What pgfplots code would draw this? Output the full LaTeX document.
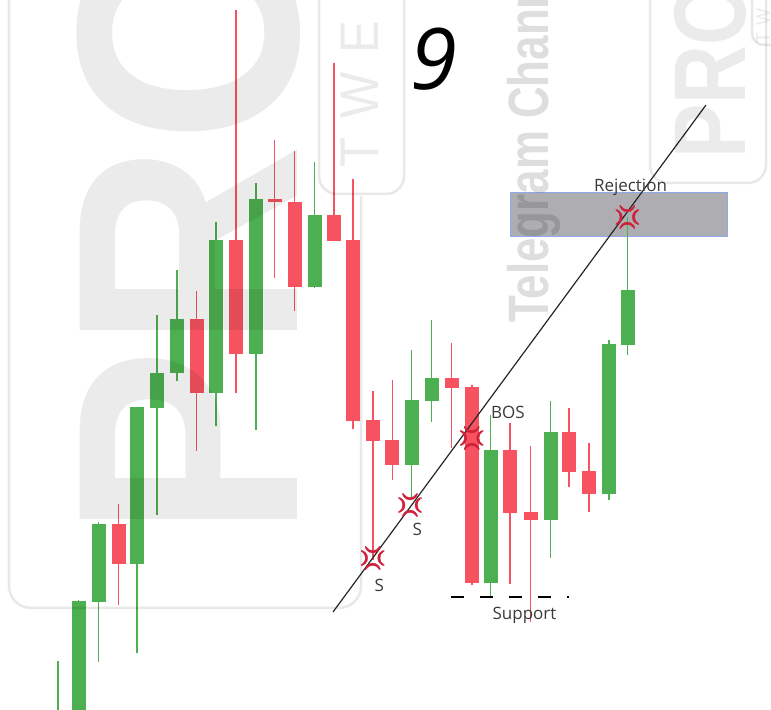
\documentclass[border=0pt]{standalone}
\usepackage{pgfplots}
\pgfplotsset{compat=1.18}
\usepackage{pgfplotstable}
\usepackage{fontspec}
\setmainfont{Open Sans}
\newfontfamily\wmfont{Liberation Sans}
\newfontfamily\emojifont{Noto Emoji}[FakeBold=1.5]

\definecolor{cgreen}{HTML}{4CAF50}
\definecolor{cred}{HTML}{F7525F}
\definecolor{angry}{HTML}{D0203A}
\definecolor{zonefill}{HTML}{AEAEB2}
\definecolor{zoneline}{HTML}{8FA9EC}
\definecolor{labeltext}{HTML}{3A3A3A}

% candles in picture pixels: body top/bottom, wick top/bottom (y grows downwards)
\pgfplotstableread{
x     bt     bb     wt    wb
58    730    790    661   800
78.7  601.5  760    600.5 800
98.5  524    602    522   662
137   407.5  564    407   653
157   373    408    315   515
177   319    373    270   381
216   240    393    222   426
256   199    354.5  183   430
314.5 215.5  287.5  162   288
411.7 400    465    350   500
431.7 378    401    320.5 422.5
490.5 450    583    415   597
550.5 432    520    401.5 558
609   344    494.5  340   500
627.5 290    345    217   355
}\greencandles

\pgfplotstableread{
x     bt     bb     wt    wb
118.5 524    564    504   605
196.5 319    393    291   451
236   240    354.5  10    393
274.5 199    202    140   278
294.5 202    287.5  151   311
334   215.5  241    63    241
353   240    421    179   429
373   420.5  441    391   560
392.3 440.5  465    380   480
451.7 377.7  388    342.7 447.7
472   387    583    385   585
510   450    513.3  423   584
530.7 512    520    445.7 621.7
569   432    472    408   486.7
589   471    494    443   511.7
}\redcandles

\pgfplotsset{
  candlepart/.style 2 args={draw=none, no marks,
    error bars/.cd, y dir=both, y explicit, error mark=none,
    error bar style={draw=#1, line width=#2}},
}

\begin{document}
\begin{tikzpicture}
\begin{axis}[
  width=771bp, height=710bp, scale only axis,
  xmin=0, xmax=771, ymin=0, ymax=710, y dir=reverse,
  enlargelimits=false, hide axis, clip=true,
]
\coordinate (tl) at (axis cs:0,0);
\coordinate (br) at (axis cs:771,710);

% rejection zone
\addplot[fill=zonefill, draw=zoneline, line width=1bp] coordinates {
  (510,193) (727,193) (727,237) (510,237) (510,193)};

% candles
\addplot[candlepart={cgreen}{1.3bp}] table[x=x,
  y expr={(\thisrow{wt}+\thisrow{wb})/2},
  y error expr={(\thisrow{wb}-\thisrow{wt})/2}] {\greencandles};
\addplot[candlepart={cgreen}{14bp}] table[x=x,
  y expr={(\thisrow{bt}+\thisrow{bb})/2},
  y error expr={(\thisrow{bb}-\thisrow{bt})/2}] {\greencandles};
\addplot[candlepart={cred}{1.3bp}] table[x=x,
  y expr={(\thisrow{wt}+\thisrow{wb})/2},
  y error expr={(\thisrow{wb}-\thisrow{wt})/2}] {\redcandles};
\addplot[candlepart={cred}{14bp}] table[x=x,
  y expr={(\thisrow{bt}+\thisrow{bb})/2},
  y error expr={(\thisrow{bb}-\thisrow{bt})/2}] {\redcandles};

% trend line and support
\addplot[black!85, line width=1.2bp] coordinates {(333,612) (706,105)};
\addplot[black, line width=2bp, dash pattern=on 13bp off 16bp]
  coordinates {(451,597) (569,597)};

% touch markers
\addplot[angry, only marks, mark=text, text mark={\emojifont\fontsize{23bp}{23bp}\selectfont 💢},
  text mark as node=true, text mark style={text=angry}] coordinates {
  (372.7,558) (410,505) (471.7,438) (627.3,217)};
\end{axis}

\begin{scope}[shift={(tl)}, x=1bp, y=-1bp]
  % watermarks
  \begin{scope}[draw=black, draw opacity=0.09, line width=2.5bp]
    \draw[rounded corners=22bp] (9,-40) -- (9,608) -- (361,608) -- (361,196);
    \draw[rounded corners=18bp] (319,-40) -- (319,194) -- (404,194) -- (404,-40);
    \draw[rounded corners=18bp] (650,-40) -- (650,183) -- (766,183) -- (766,-40);
    \draw[rounded corners=12bp] (752,-40) -- (752,45) -- (800,45);
  \end{scope}
  \node[rotate=90, anchor=base west, inner sep=0pt, text=black, text opacity=0.08]
    at (297,539) {\wmfont\bfseries\fontsize{316bp}{316bp}\selectfont\scalebox{0.9}[1]{PRO}};
  \node[rotate=90, anchor=base west, inner sep=0pt, text=black, text opacity=0.08]
    at (745,159) {\wmfont\bfseries\fontsize{102bp}{102bp}\selectfont\scalebox{0.8}[1]{PRO}};
  \node[rotate=90, anchor=base west, inner sep=0pt, text=black, text opacity=0.08]
    at (378,168) {\wmfont\fontsize{54.5bp}{54.5bp}\selectfont\addfontfeature{LetterSpace=39}\scalebox{0.9}[1]{TWELVE}};
  \node[rotate=90, anchor=base west, inner sep=0pt, text=black, text opacity=0.08]
    at (770,44) {\wmfont\fontsize{20bp}{20bp}\selectfont\addfontfeature{LetterSpace=39}\scalebox{0.9}[1]{TWELVE}};
  \node[rotate=90, anchor=base west, inner sep=0pt, text=black, text opacity=0.13]
    at (548,323) {\wmfont\bfseries\fontsize{57bp}{57bp}\selectfont\scalebox{0.77}[1]{Telegram Channel}};

  % labels
  \begin{scope}[every node/.style={anchor=base, inner sep=0pt, text=labeltext,
      font=\fontsize{17bp}{20bp}\selectfont}]
    \node at (630.5,192) {Rejection};
    \node at (508,419) {BOS};
    \node at (379.3,591.7) {S};
    \node at (417.3,536) {S};
    \node at (524.5,620) {Support};
  \end{scope}
  \node[anchor=base, inner sep=0pt, text=black]
    at (434,90) {\fontsize{85bp}{90bp}\selectfont\itshape 9};
\end{scope}

\pgfresetboundingbox
\path[use as bounding box] (tl) rectangle (br);
\end{tikzpicture}
\end{document}
